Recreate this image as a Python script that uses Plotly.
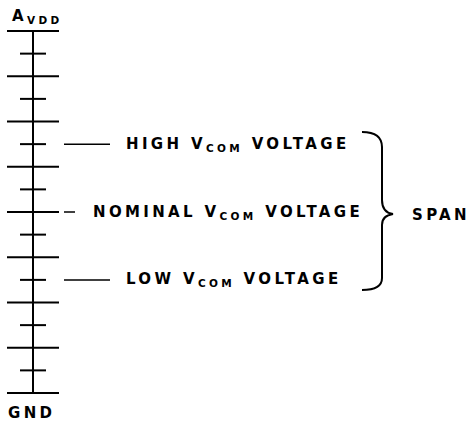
import plotly.graph_objects as go

# ---- data (voltage levels on a 0..16 ladder) ----
tick_levels = [16, 15, 14, 13, 12, 11, 10, 9, 8, 7, 6, 5, 4, 3, 2, 1, 0]
tick_kinds = ["long", "short", "long", "short", "long", "short", "long", "short", "long",
              "short", "long", "short", "long", "short", "long", "short", "long"]
top_label = "A<sub>VDD</sub>"
bottom_label = "GND"
marker_names = ["HIGH V<sub>COM</sub> VOLTAGE", "NOMINAL V<sub>COM</sub> VOLTAGE", "LOW V<sub>COM</sub> VOLTAGE"]
marker_levels = [11, 8, 5]
marker_kinds = ["long", "short", "long"]
span_range = [4.55, 11.54]
span_tip = 7.91
span_label = "SPAN"

# ---- layout constants (pixel-like x units) ----
X_AXIS = 33
HALF = {"long": 26, "short": 13}
MARK_X0 = 64
MARK_X1 = {"long": 110, "short": 75}
TEXT_X = {"long": 124, "short": 91}
FONT = "DejaVu Sans"
FS = 15

top_level = max(tick_levels)
bot_level = min(tick_levels)
px_per = 22.625
y_top = top_level + 31 / px_per
y_bot = top_level - 392 / px_per

fig = go.Figure()

# vertical spine
fig.add_trace(go.Scatter(x=[X_AXIS, X_AXIS], y=[bot_level, top_level], mode="lines",
                         line=dict(color="black", width=2), hoverinfo="skip"))
# ticks
tx, ty = [], []
for lv, k in zip(tick_levels, tick_kinds):
    tx += [X_AXIS - HALF[k], X_AXIS + HALF[k], None]
    ty += [lv, lv, None]
fig.add_trace(go.Scatter(x=tx, y=ty, mode="lines", line=dict(color="black", width=2),
                         hoverinfo="skip"))
# marker leader lines
mx, my = [], []
for lv, k in zip(marker_levels, marker_kinds):
    mx += [MARK_X0, MARK_X1[k], None]
    my += [lv, lv, None]
fig.add_trace(go.Scatter(x=mx, y=my, mode="lines", line=dict(color="black", width=1.5),
                         hoverinfo="skip"))

annos = []
for name, lv, k in zip(marker_names, marker_levels, marker_kinds):
    annos.append(dict(x=TEXT_X[k], y=lv, text="<b>" + name + "</b>", xanchor="left",
                      align="left", yanchor="middle", showarrow=False, yshift=0,
                      font=dict(family=FONT, size=FS, color="black")))
annos.append(dict(x=10, y=top_level, text="<b>" + top_label + "</b>", xanchor="left",
                  align="left", yanchor="bottom", showarrow=False, yshift=3,
                  font=dict(family=FONT, size=FS, color="black")))
annos.append(dict(x=6, y=bot_level, text="<b>" + bottom_label + "</b>", xanchor="left",
                  align="left", yanchor="top", showarrow=False, yshift=-9,
                  font=dict(family=FONT, size=FS, color="black")))
annos.append(dict(x=410, y=span_tip, text="<b>" + span_label + "</b>", xanchor="left",
                  align="left", yanchor="middle", showarrow=False, yshift=-1,
                  font=dict(family=FONT, size=FS, color="black")))

# brace
s_bot, s_top = span_range
d = (s_top - s_bot)
c1 = s_top - 0.096 * d
c2 = span_tip + 0.089 * d
c3 = span_tip - 0.069 * d
c4 = s_bot + 0.076 * d
path = (f"M 362,{s_top} Q 382,{s_top} 382,{c1} L 382,{c2} "
        f"Q 382,{span_tip + 0.01 * d} 393,{span_tip} "
        f"Q 382,{span_tip - 0.01 * d} 382,{c3} L 382,{c4} "
        f"Q 382,{s_bot} 362,{s_bot}")
fig.add_shape(type="path", path=path, xref="x", yref="y",
              line=dict(color="black", width=2))

fig.update_layout(
    width=470, height=423, margin=dict(l=0, r=0, t=0, b=0),
    paper_bgcolor="white", plot_bgcolor="white", showlegend=False,
    xaxis=dict(range=[0, 470], visible=False, fixedrange=True),
    yaxis=dict(range=[y_bot, y_top], visible=False, fixedrange=True),
    annotations=annos,
)

css = ("var s=document.createElement('style');"
       "s.textContent='body{margin:0;padding:0;overflow:hidden}"
       ".annotation-text{letter-spacing:3.35px}';"
       "document.head.appendChild(s);")
fig.write_html("out.html", post_script=css, config={"displayModeBar": False, "staticPlot": True})
